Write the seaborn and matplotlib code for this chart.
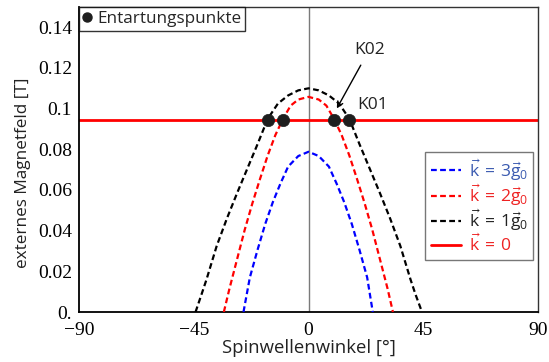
import matplotlib
matplotlib.use("Agg")
import matplotlib.pyplot as plt
from matplotlib.lines import Line2D
import pandas as pd
import seaborn as sns

# Dispersion branches: spin-wave angle (deg) vs. external field (T)
winkel_1g0 = [-44.3, -42, -40, -36, -32, -28, -24, -20, -16, -12, -8, -4, 0,
              4, 8, 12, 16, 20, 24, 28, 32, 36, 40, 42, 44.5]
feld_1g0 = [0.0, 0.0085, 0.0160, 0.0325, 0.0460, 0.0585, 0.0705, 0.0825, 0.0950,
            0.1025, 0.1065, 0.1090, 0.1100, 0.1090, 0.1065, 0.1025, 0.0950, 0.0825,
            0.0705, 0.0585, 0.0460, 0.0325, 0.0160, 0.0085, 0.0]

winkel_2g0 = [-33.2, -31, -28, -25, -22, -19, -16, -13, -10, -7, -4, 0,
              4, 7, 10, 13, 16, 19, 22, 25, 28, 31, 33.1]
feld_2g0 = [0.0, 0.0115, 0.0260, 0.0405, 0.0535, 0.0655, 0.0770, 0.0870, 0.0950,
            0.1015, 0.1045, 0.1058, 0.1045, 0.1015, 0.0950, 0.0870, 0.0770, 0.0655,
            0.0535, 0.0405, 0.0260, 0.0115, 0.0]

winkel_3g0 = [-25.5, -23, -20, -17, -14, -11, -8, -4, 0, 4, 8, 11, 14, 17, 20, 23, 25.2]
feld_3g0 = [0.0, 0.0170, 0.0305, 0.0432, 0.0540, 0.0632, 0.0715, 0.0767, 0.0788,
            0.0767, 0.0715, 0.0632, 0.0540, 0.0432, 0.0305, 0.0170, 0.0]

# Uniform mode (k = 0)
feld_k0 = 0.0945

# Degeneracy points on the k = 0 line
punkt_winkel = [-16.0, -10.0, 10.0, 16.0]
punkt_feld = [0.0945, 0.0945, 0.0945, 0.0945]

x_ticks = [-90, -45, 0, 45, 90]
x_ticklabels = ["\u221290", "\u221245", "0", "45", "90"]
y_ticks = [0, 0.02, 0.04, 0.06, 0.08, 0.1, 0.12, 0.14]
y_ticklabels = ["0.", "0.02", "0.04", "0.06", "0.08", "0.1", "0.12", "0.14"]

labels = [r"$\vec{k}\,=\,3\vec{g}_0$", r"$\vec{k}\,=\,2\vec{g}_0$",
          r"$\vec{k}\,=\,1\vec{g}_0$", r"$\vec{k}\,=\,0$"]

sns.set_style("white")
plt.rcParams["font.family"] = ["Open Sans", "DejaVu Sans"]
plt.rcParams["mathtext.fontset"] = "custom"
plt.rcParams["mathtext.rm"] = "Open Sans"
plt.rcParams["mathtext.it"] = "Open Sans"
plt.rcParams["mathtext.sf"] = "Open Sans"
plt.rcParams["mathtext.fallback"] = "stixsans"

fig = plt.figure(figsize=(5.49, 3.62), dpi=100)
ax = fig.add_axes([0.1439, 0.1381, 0.8361, 0.8426])

dash = (0, (2.6, 1.5))
ax.axvline(0, color="#7a7a7a", lw=1.0, zorder=1)
ax.axhline(feld_k0, color="#ff0000", lw=2.0, zorder=2)

df = pd.concat([
    pd.DataFrame({"w": winkel_3g0, "b": feld_3g0, "k": "3g0"}),
    pd.DataFrame({"w": winkel_2g0, "b": feld_2g0, "k": "2g0"}),
    pd.DataFrame({"w": winkel_1g0, "b": feld_1g0, "k": "1g0"}),
])
farben = {"3g0": "#0000ff", "2g0": "#ff0000", "1g0": "#000000"}
for k, sub in df.groupby("k", sort=False):
    sns.lineplot(data=sub, x="w", y="b", ax=ax, color=farben[k], lw=1.6,
                 linestyle=dash, sort=False, estimator=None, zorder=3)

sns.scatterplot(x=punkt_winkel, y=punkt_feld, ax=ax, s=78, color="#1e1e1e",
                edgecolor="#1e1e1e", linewidth=0.5, zorder=5)

ax.set_xlim(-90, 90)
ax.set_ylim(0, 0.15)
ax.set_xticks(x_ticks)
ax.set_xticklabels(x_ticklabels, family="Liberation Serif", fontsize=14)
ax.set_yticks(y_ticks)
ax.set_yticklabels(y_ticklabels, family="Liberation Serif", fontsize=14)
ax.tick_params(axis="x", direction="in", length=4, width=1, pad=7, colors="black")
ax.tick_params(axis="y", direction="out", length=3, width=1, pad=2, colors="black")
ax.set_xlabel("Spinwellenwinkel [\u00b0]", fontsize=13.3, color="#222222", labelpad=0)
ax.set_ylabel("externes Magnetfeld [T]", fontsize=12.3, color="#222222")
ax.yaxis.set_label_coords(-0.105, 0.455)

for side in ["left", "bottom"]:
    ax.spines[side].set_color("black")
    ax.spines[side].set_linewidth(1.3)
for side in ["top", "right"]:
    ax.spines[side].set_color("#333333")
    ax.spines[side].set_linewidth(1.0)

# Annotations of the crossing points
ax.annotate("", xy=(11.1, 0.1001), xytext=(20.5, 0.1214),
            arrowprops=dict(arrowstyle="->", color="black", lw=1.0,
                            shrinkA=0, shrinkB=0))
ax.text(24.0, 0.1287, "K02", fontsize=12.5, color="#222222", ha="center", va="center")
ax.text(25.1, 0.1019, "K01", fontsize=12.5, color="#222222", ha="center", va="center")

# Legend for the degeneracy points
h_pkt = Line2D([], [], marker="o", ls="none", color="#1e1e1e", markersize=6.5)
leg1 = ax.legend([h_pkt], ["Entartungspunkte"], loc="upper left",
                 bbox_to_anchor=(0, 1), borderaxespad=0, fontsize=12.3,
                 frameon=True, fancybox=False, handlelength=0.5,
                 handletextpad=0.35, borderpad=0.22)
leg1.get_frame().set_edgecolor("black")
leg1.get_frame().set_linewidth(1.0)
ax.add_artist(leg1)

handles = [
    Line2D([], [], color="#0000ff", lw=1.6, linestyle=dash),
    Line2D([], [], color="#ff0000", lw=1.6, linestyle=dash),
    Line2D([], [], color="#000000", lw=1.6, linestyle=dash),
    Line2D([], [], color="#ff0000", lw=2.0),
]
leg2 = ax.legend(handles, labels, loc="lower right", bbox_to_anchor=(0.99, 0.17),
                 borderaxespad=0, fontsize=12.6, frameon=True, fancybox=False,
                 handlelength=1.75, handletextpad=0.45, labelspacing=-0.02,
                 borderpad=0.3)
leg2.get_frame().set_edgecolor("#555555")
leg2.get_frame().set_linewidth(1.0)
for t, c in zip(leg2.get_texts(), ["#3a5ab0", "#ee2222", "#222222", "#ee2222"]):
    t.set_color(c)

fig.savefig("out.png", dpi=100)
